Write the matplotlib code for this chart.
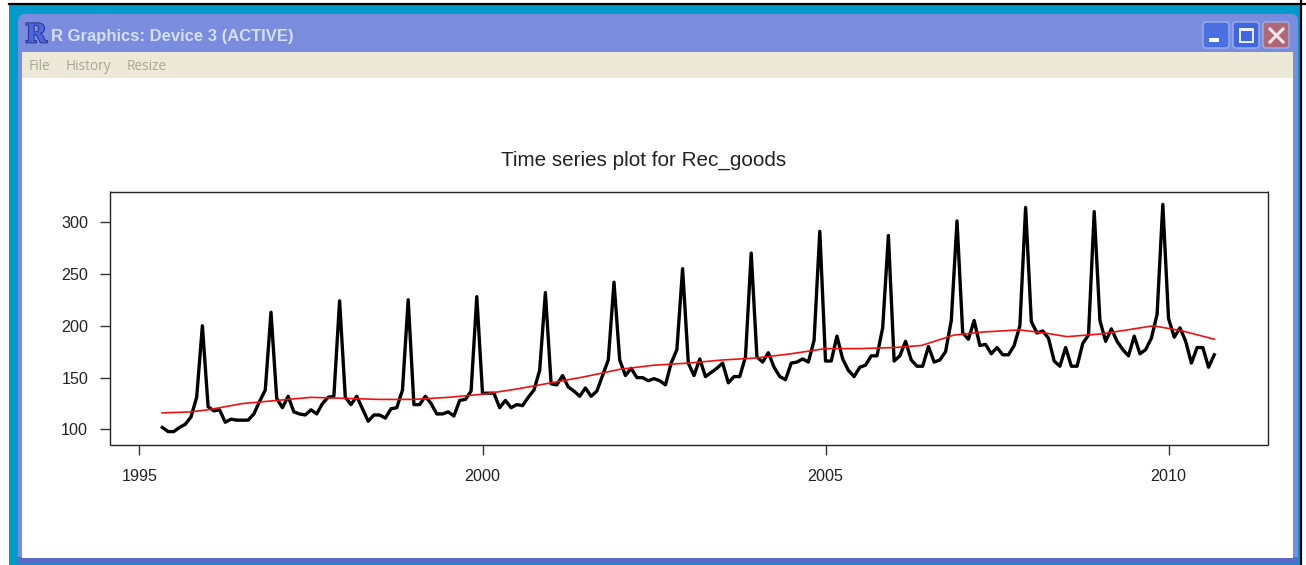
import numpy as np
import matplotlib
matplotlib.use('Agg')
import matplotlib.pyplot as plt
import matplotlib.patheffects as pe
from matplotlib.patches import Rectangle, FancyBboxPatch

# monthly values, May 1995 - Sep 2010
start_year = 1995 + 4 / 12
rec_goods = [
    102, 98, 98, 102, 105, 112, 131, 200,
    122, 118, 119, 107, 110, 109, 109, 109, 115, 127, 138, 213,
    130, 121, 132, 117, 115, 114, 119, 115, 125, 131, 132, 224,
    131, 124, 132, 120, 108, 114, 114, 111, 120, 121, 138, 225,
    124, 124, 132, 125, 115, 115, 117, 113, 128, 129, 137, 228,
    135, 135, 135, 121, 128, 121, 124, 123, 131, 138, 157, 232,
    144, 143, 152, 141, 137, 132, 140, 132, 137, 152, 167, 242,
    167, 152, 159, 150, 150, 147, 149, 147, 143, 164, 177, 255,
    164, 152, 168, 151, 155, 159, 164, 145, 151, 151, 170, 270,
    170, 165, 174, 160, 151, 148, 164, 165, 168, 165, 186, 291,
    166, 166, 190, 168, 157, 151, 160, 162, 171, 171, 198, 287,
    166, 171, 185, 167, 161, 161, 180, 165, 167, 175, 205, 301,
    193, 187, 205, 181, 182, 173, 179, 172, 172, 181, 200, 314,
    204, 193, 195, 188, 166, 161, 179, 161, 161, 183, 191, 310,
    205, 185, 197, 185, 177, 171, 190, 173, 177, 188, 211, 317,
    207, 189, 198, 185, 164, 179, 179, 160, 172,
]

trend_years = [1995.33, 1995.75, 1996, 1996.5, 1997, 1997.5, 1998, 1998.5, 1999, 1999.5,
               2000, 2000.5, 2001, 2001.5, 2002, 2002.5, 2003, 2003.5, 2004, 2004.5,
               2005, 2005.5, 2006, 2006.4, 2006.87, 2007.3, 2007.83, 2008.2, 2008.52,
               2009, 2009.4, 2009.78, 2010.2, 2010.67]
trend = [116, 117, 119, 125, 128, 131, 130, 129, 129, 131,
         134, 139, 145, 151, 158, 162, 164, 167, 169, 173,
         178, 178, 179, 181, 191, 194, 196, 193, 189.5,
         192, 196, 200, 195, 187]

x_ticks = [1995, 2000, 2005, 2010]
y_ticks = [100, 150, 200, 250, 300]

years = start_year + np.arange(len(rec_goods)) / 12

fig = plt.figure(figsize=(13.06, 5.65), dpi=100, facecolor='white')

# window around the plot
bg = fig.add_axes([0, 0, 1, 1])
bg.set_xlim(0, 1306)
bg.set_ylim(565, 0)
bg.axis('off')

bg.add_patch(Rectangle((9, 5), 1291, 560, color='#009ACD', lw=0))
bg.plot([9, 1306], [4, 4], color='black', lw=1.6)
bg.plot([1300.5, 1300.5], [0, 565], color='black', lw=1.6)

frame = FancyBboxPatch((18, 14), 1280, 549, boxstyle='round,pad=0,rounding_size=7',
                       fc='#7A8CDD', ec='none')
bg.add_patch(frame)
grad = np.linspace(0, 1, 38).reshape(-1, 1)
title_bar = bg.imshow(grad, extent=(18, 1298, 52, 14), aspect='auto',
                      cmap=matplotlib.colors.LinearSegmentedColormap.from_list(
                          'bar', ['#8A9EE2', '#7A8FDB', '#7B95DE', '#86AAEA']))
title_bar.set_clip_path(frame)
bg.set_xlim(0, 1306)
bg.set_ylim(565, 0)
bg.add_patch(Rectangle((22, 52), 1271, 26, color='#ECE9D8', lw=0))
bg.add_patch(Rectangle((22, 78), 1271, 479, color='white', lw=0))
bg.add_patch(Rectangle((18, 557), 1280, 6, color='#5A68C8', lw=0))
bg.add_patch(Rectangle((22, 556), 1271, 1.5, color='white', lw=0))

r_icon = bg.text(36, 35, 'R', family='DejaVu Serif', weight='bold', fontsize=19, color='#4C66E0',
                 ha='center', va='center')
r_icon.set_path_effects([pe.withStroke(linewidth=1.2, foreground='#1C2A80')])
bg.text(51, 36, 'R Graphics: Device 3 (ACTIVE)', family='Liberation Sans', weight='bold',
        fontsize=11.95, color='#D5DFF6', ha='left', va='center')
bg.text(29, 66, 'File', family='Open Sans', fontsize=9.8, color='#A8A698', ha='left', va='center')
bg.text(66, 66, 'History', family='Open Sans', fontsize=9.8, color='#A8A698', ha='left', va='center')
bg.text(127, 66, 'Resize', family='Open Sans', fontsize=9.8, color='#A8A698', ha='left', va='center')

# title bar buttons
for bx, col in [(1203, '#4A6FE0'), (1233, '#3F66DC'), (1263, '#B06878')]:
    bg.add_patch(FancyBboxPatch((bx, 22), 26, 26, boxstyle='round,pad=0,rounding_size=3',
                                fc=col, ec='#9DB0EA', lw=1))
bg.add_patch(Rectangle((1209, 38), 10, 4, color='white', lw=0))
bg.add_patch(Rectangle((1240, 29), 13, 13, fc='none', ec='#E8EEFA', lw=1.4))
bg.add_patch(Rectangle((1240, 28), 13, 3, color='#E8EEFA', lw=0))
bg.plot([1270, 1283], [29, 42], color='#F2E6E8', lw=2.2)
bg.plot([1270, 1283], [42, 29], color='#F2E6E8', lw=2.2)

# the plot itself
ax = fig.add_axes([110 / 1306, 1 - 445 / 565, 1158 / 1306, 253.5 / 565])
ax.plot(years, rec_goods, color='black', lw=2.4, solid_joinstyle='round')
ax.plot(trend_years, trend, color='#F01010', lw=1.2)
ax.set_xlim(1994.57, 2011.45)
ax.set_ylim(85.06, 329.4)
ax.set_xticks(x_ticks)
ax.set_yticks(y_ticks)
ax.tick_params(axis='x', length=7.2, width=1, color='#333333', pad=10,
               labelsize=11.6, labelcolor='#222222')
ax.tick_params(axis='y', length=7.2, width=1, color='#333333', pad=8.5,
               labelsize=11.6, labelcolor='#222222')
for lab in ax.get_xticklabels() + ax.get_yticklabels():
    lab.set_family('Liberation Sans')
for s in ax.spines.values():
    s.set_color('#222222')
    s.set_linewidth(1)
    s.set_capstyle('butt')

fig.text(644 / 1306, 1 - 160 / 565, 'Time series plot for Rec_goods', family='Liberation Sans',
         fontsize=14.9, color='#222222', ha='center', va='center')

fig.savefig('out.png', dpi=100)
